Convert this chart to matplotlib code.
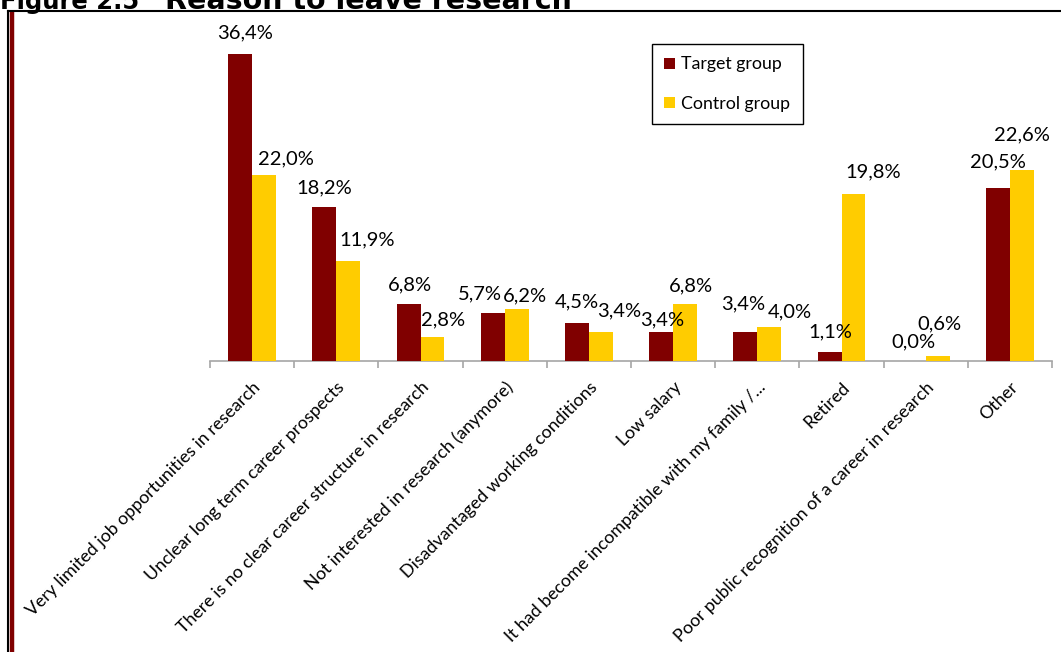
import matplotlib
matplotlib.use("Agg")
import matplotlib.pyplot as plt
from matplotlib.lines import Line2D
from matplotlib.patches import Patch
import numpy as np

categories = [
    "Very limited job opportunities in research",
    "Unclear long term career prospects",
    "There is no clear career structure in research",
    "Not interested in research (anymore)",
    "Disadvantaged working conditions",
    "Low salary",
    "It had become incompatible with my family /...",
    "Retired",
    "Poor public recognition of a career in research",
    "Other",
]
target_group = [36.4, 18.2, 6.8, 5.7, 4.5, 3.4, 3.4, 1.1, 0.0, 20.5]
control_group = [22.0, 11.9, 2.8, 6.2, 3.4, 6.8, 4.0, 19.8, 0.6, 22.6]
series_names = ["Target group", "Control group"]

# label nudges in pixels (dx, dy above bar top)
target_label_offsets = [(5, 21), (0, 20), (1, 19), (-13, 19), (0, 21),
                        (1, 12), (-2, 28), (1, 20), (0, 19), (0, 26)]
control_label_offsets = [(22, 16), (19, 21), (11, 17), (8, 13), (18, 21),
                         (6, 18), (21, 15), (20, 22), (2, 32), (0, 35)]

W, H = 1061, 652
fig = plt.figure(figsize=(W / 100, H / 100), dpi=100)
fig.patch.set_facecolor("white")

TEXT_FONT = ["Lato", "DejaVu Sans"]
RED = "#800000"
GOLD = "#FFCC00"

def fx(px):
    return px / W

def fy(py):
    return 1 - py / H

# plot area: baseline at y=361 px, x from 210 to 1052 px
ymax = 40.0
px_per_unit = 8.44
top_px = 361 - ymax * px_per_unit
ax = fig.add_axes([fx(210), fy(361), fx(1052) - fx(210), fy(top_px) - fy(361)])

x = np.arange(len(categories))
bw = 0.285
bars_t = ax.bar(x - bw / 2, target_group, bw, color=RED, label=series_names[0], zorder=3)
bars_c = ax.bar(x + bw / 2, control_group, bw, color=GOLD, label=series_names[1], zorder=3)

ax.set_xlim(-0.5, len(categories) - 0.5)
ax.set_ylim(0, ymax)

for s in ["left", "right", "top"]:
    ax.spines[s].set_visible(False)
ax.spines["bottom"].set_color("#A6A6A6")
ax.spines["bottom"].set_linewidth(1.2)
ax.set_yticks([])

ax.set_xticks(x)
ax.set_xticklabels(categories, rotation=45, ha="right", rotation_mode="anchor",
                   fontsize=12.8, family=TEXT_FONT, color="black")
ax.tick_params(axis="x", which="major", length=0, pad=13)
ax.set_xticks(np.arange(-0.5, len(categories)), minor=True)
ax.tick_params(axis="x", which="minor", length=5, width=1.2, color="#A6A6A6", direction="out")

def fmt(v):
    return f"{v:.1f}".replace(".", ",") + "%"

for bars, vals, offs in [(bars_t, target_group, target_label_offsets),
                         (bars_c, control_group, control_label_offsets)]:
    for b, v, (dx, dy) in zip(bars, vals, offs):
        ax.annotate(fmt(v), (b.get_x() + b.get_width() / 2, v),
                    xytext=(dx, dy), textcoords="offset pixels",
                    ha="center", va="center", fontsize=14.5, family=TEXT_FONT,
                    color="black", zorder=4)

handles = [Patch(facecolor=RED, edgecolor="none"), Patch(facecolor=GOLD, edgecolor="none")]
leg = fig.legend(handles, series_names, loc="upper left",
                 bbox_to_anchor=(fx(652), fy(44)), bbox_transform=fig.transFigure,
                 frameon=True, fancybox=False, edgecolor="black", framealpha=1,
                 prop={"family": TEXT_FONT, "size": 12.8},
                 handlelength=0.6, handleheight=0.6, handletextpad=0.35,
                 labelspacing=1.3, borderpad=0.7, borderaxespad=0)
leg.get_frame().set_linewidth(1.0)

# outer chart frame (extends past the right and bottom edges)
fig.add_artist(Line2D([fx(8), fx(W + 5)], [fy(11), fy(11)], color="black", lw=1.5,
                      transform=fig.transFigure))
fig.add_artist(Line2D([fx(8), fx(8)], [fy(11), fy(H + 5)], color="black", lw=1.5,
                      transform=fig.transFigure))
fig.add_artist(Line2D([fx(11.5), fx(11.5)], [fy(12), fy(H + 5)], color=RED, lw=3.2,
                      transform=fig.transFigure, solid_capstyle="butt"))

# heading, partly above the top edge
fig.text(fx(0), fy(9), "Figure 2.5", fontsize=17.5,
         fontweight="bold", family="DejaVu Sans", ha="left", va="baseline")
fig.text(fx(165), fy(9), "Reason to leave research", fontsize=20.5,
         fontweight="bold", family="DejaVu Sans", ha="left", va="baseline")

fig.savefig("out.png", dpi=100, facecolor="white")
